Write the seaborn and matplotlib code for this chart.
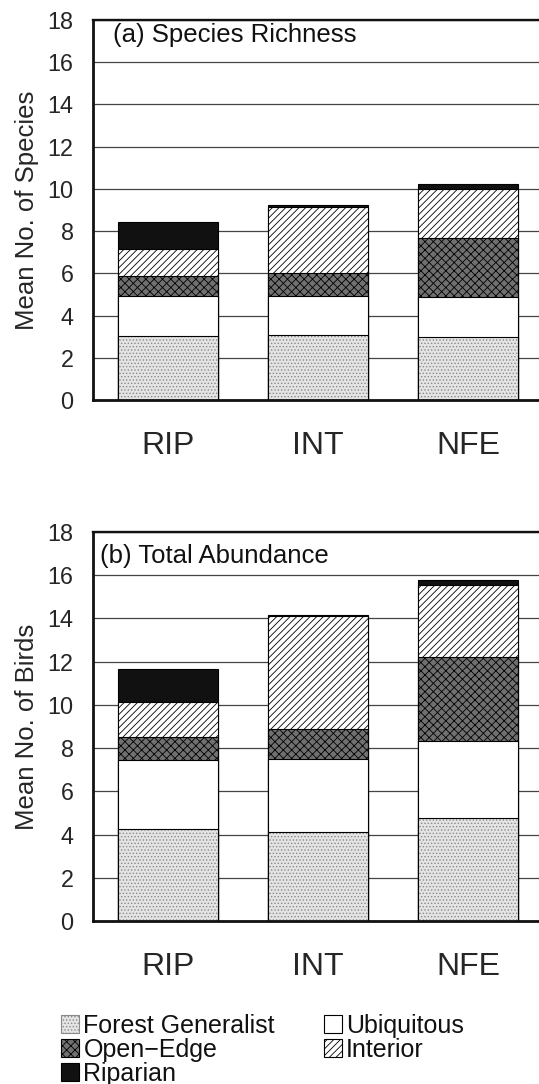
import matplotlib
matplotlib.use("Agg")
import matplotlib.pyplot as plt
import numpy as np
import seaborn as sns
from matplotlib.patches import Patch

SITES = ["RIP", "INT", "NFE"]
GUILDS = ["Forest Generalist", "Ubiquitous", "Open\u2212Edge", "Interior", "Riparian"]

# (a) mean number of species per guild, by site
SPECIES_FOREST = [3.05, 3.08, 2.97]
SPECIES_UBIQ = [1.87, 1.83, 1.91]
SPECIES_OPEN = [0.95, 1.09, 2.81]
SPECIES_INTERIOR = [1.30, 3.12, 2.28]
SPECIES_RIPARIAN = [1.24, 0.10, 0.24]

# (b) mean number of birds per guild, by site
BIRDS_FOREST = [4.26, 4.14, 4.77]
BIRDS_UBIQ = [3.20, 3.35, 3.58]
BIRDS_OPEN = [1.05, 1.39, 3.85]
BIRDS_INTERIOR = [1.63, 5.23, 3.34]
BIRDS_RIPARIAN = [1.54, 0.07, 0.23]

Y_TICKS = list(range(0, 19, 2))

# facecolor, hatch, hatch colour
STYLES = {
    "Forest Generalist": ("#e4e4e4", ".....", "#8a8a8a"),
    "Ubiquitous": ("white", "", "black"),
    "Open\u2212Edge": ("#707070", "xxxx", "black"),
    "Interior": ("white", "/////", "black"),
    "Riparian": ("#111111", "", "black"),
}

BAR_WIDTH = 0.667
FONT = ["Liberation Sans", "DejaVu Sans"]

sns.set_theme(style="white")
plt.rcParams["font.family"] = FONT
plt.rcParams["hatch.linewidth"] = 0.6
plt.rcParams["text.color"] = "#111111"


def draw_panel(ax, layers, ylabel, title, title_xy):
    tops = np.cumsum(np.array(layers), axis=0)
    for i in reversed(range(len(GUILDS))):
        face, hatch, hcolor = STYLES[GUILDS[i]]
        n0 = len(ax.patches)
        sns.barplot(x=SITES, y=tops[i], ax=ax, color=face, saturation=1,
                    width=BAR_WIDTH, errorbar=None,
                    edgecolor=hcolor, linewidth=0.8 if hcolor == "black" else 0)
        for p in ax.patches[n0:]:
            p.set_facecolor(face)
            p.set_hatch(hatch)
        if hcolor != "black":
            # black outline over the grey-stippled bars
            n1 = len(ax.patches)
            sns.barplot(x=SITES, y=tops[i], ax=ax, color="white", saturation=1,
                        width=BAR_WIDTH, errorbar=None,
                        edgecolor="black", linewidth=0.8)
            for p in ax.patches[n1:]:
                p.set_facecolor("none")

    ax.set_xlim(-0.5, 2.473)
    ax.set_ylim(0, 18)
    ax.set_yticks(Y_TICKS)
    ax.set_xlabel("")
    ax.set_ylabel(ylabel, fontsize=18.5)
    ax.yaxis.set_label_coords(-0.121, 0.5)
    ax.set_axisbelow(True)
    ax.yaxis.grid(True, color="#444444", linewidth=0.9)
    ax.xaxis.grid(False)
    ax.tick_params(axis="x", length=0, pad=22, labelsize=23)
    ax.tick_params(axis="y", length=0, pad=14, labelsize=16.8)
    for side in ["left", "bottom", "top"]:
        ax.spines[side].set_color("#111111")
        ax.spines[side].set_linewidth(2.0)
    ax.spines["top"].set_linewidth(1.7)
    ax.spines["right"].set_visible(False)
    ax.text(title_xy[0], title_xy[1], title, fontsize=18.5, va="center", ha="left")


fig = plt.figure(figsize=(5.39, 10.84), dpi=100)
ax_a = fig.add_axes([0.1725, 0.631, 0.8275, 0.3506])
ax_b = fig.add_axes([0.1725, 0.1504, 0.8275, 0.3588])

draw_panel(ax_a,
           [SPECIES_FOREST, SPECIES_UBIQ, SPECIES_OPEN, SPECIES_INTERIOR, SPECIES_RIPARIAN],
           "Mean No. of Species", "(a) Species Richness", (-0.367, 17.3))
draw_panel(ax_b,
           [BIRDS_FOREST, BIRDS_UBIQ, BIRDS_OPEN, BIRDS_INTERIOR, BIRDS_RIPARIAN],
           "Mean No. of Birds", "(b) Total Abundance", (-0.453, 16.9))

legend_order = [0, 2, 4, 1, 3]
handles = []
for i in legend_order:
    face, hatch, hcolor = STYLES[GUILDS[i]]
    handles.append(Patch(facecolor=face, edgecolor=hcolor, hatch=hatch,
                         linewidth=0.8, label=GUILDS[i]))
fig.legend(handles=handles, loc="upper left", bbox_to_anchor=(0.113, 0.065),
           ncol=2, frameon=False, fontsize=18, handlelength=0.74,
           handleheight=0.74, handletextpad=0.16, labelspacing=0.0,
           columnspacing=1.95, borderpad=0, borderaxespad=0)

fig.savefig("out.png", dpi=100)
